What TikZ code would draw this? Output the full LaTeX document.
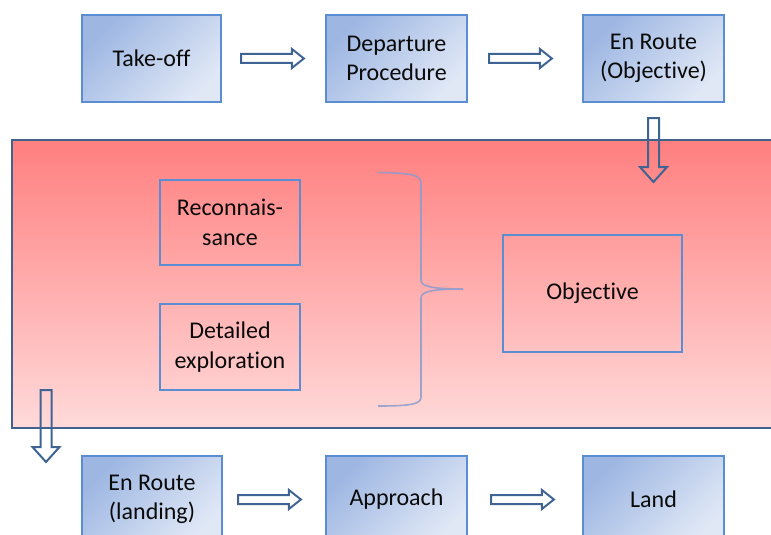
\documentclass[tikz,border=0pt]{standalone}
\usepackage{fontspec}
\setmainfont{Carlito}[Ligatures=CommonOff]
\usetikzlibrary{calc}

\definecolor{boxtop}{HTML}{9DB6E2}
\definecolor{boxbot}{HTML}{E0E8F6}
\definecolor{boxline}{HTML}{5B8DD3}
\definecolor{arrowline}{HTML}{3F6494}
\definecolor{panelline}{HTML}{41628F}
\definecolor{paneltop}{HTML}{FF7F7F}
\definecolor{panelbot}{HTML}{FFDADA}
\definecolor{bracecol}{HTML}{8A9CCF}
\definecolor{inktext}{HTML}{0A0A0A}

\tikzset{
  stage/.style={draw=boxline, line width=2.2pt, top color=boxtop, bottom color=boxbot,
    shading angle=45, align=center, text=inktext, inner sep=0pt,
    font=\fontsize{24}{29.5}\selectfont},
  subbox/.style={draw=boxline, line width=2.4pt, align=center, text=inktext, inner sep=0pt,
    font=\fontsize{24}{29.5}\selectfont},
  blockarrow/.style={draw=arrowline, line width=2pt, line join=miter},
  panel/.style={draw=panelline, line width=2.2pt, top color=paneltop, bottom color=panelbot},
  bracket/.style={draw=bracecol, line width=1.6pt, opacity=0.85},
}

% hollow block arrow pointing right, from #1 to #2 (same height)
\newcommand\rightblock[2]{%
  \draw[blockarrow] let \p1=(#1), \p2=(#2) in
    (\x1,\y1+4.5pt) -- (\x2-12pt,\y1+4.5pt) -- (\x2-12pt,\y1+9.5pt) -- (\x2,\y1)
    -- (\x2-12pt,\y1-9.5pt) -- (\x2-12pt,\y1-4.5pt) -- (\x1,\y1-4.5pt) -- cycle;}
% hollow block arrow pointing down, from #1 to #2 (same column)
\newcommand\downblock[2]{%
  \draw[blockarrow] let \p1=(#1), \p2=(#2) in
    (\x1-5.5pt,\y1) -- (\x1-5.5pt,\y2+15pt) -- (\x1-13.5pt,\y2+15pt) -- (\x1,\y2)
    -- (\x1+13.5pt,\y2+15pt) -- (\x1+5.5pt,\y2+15pt) -- (\x1+5.5pt,\y1) -- cycle;}

\begin{document}
\begin{tikzpicture}[x=1pt, y=-1pt]
  \useasboundingbox (0,0) rectangle (771,535);
  \clip (0,0) rectangle (771,535);

  % objective phase panel
  \path[panel] (12,140) rectangle (800,428);

  % top row
  \node[stage, minimum width=139pt, minimum height=87pt] (takeoff) at (151.5,58.5) {Take-off};
  \node[stage, minimum width=141pt, minimum height=87pt] (departure) at (396.5,58.5) {Departure\\Procedure};
  \node[stage, minimum width=141pt, minimum height=87pt] (enobj) at (653.5,58.5) {En Route\\(Objective)};

  % bottom row
  \node[stage, minimum width=140pt, minimum height=87pt] (enland) at (152,499.5) {En Route\\(landing)};
  \node[stage, minimum width=141pt, minimum height=87pt] (approach) at (396.5,499.5) {Approach};
  \node[stage, minimum width=141pt, minimum height=87pt] (land) at (653.5,499.5) {Land};

  % boxes inside the panel
  \node[subbox, minimum width=140pt, minimum height=85pt] (recon) at (230,222.5) {Reconnais-\\sance};
  \node[subbox, minimum width=140pt, minimum height=86pt] (explore) at (230,347) {Detailed\\exploration};
  \node[subbox, minimum width=179pt, minimum height=117pt] (objective) at (592.5,293.5) {Objective};

  % curly brace grouping the two activities
  \coordinate (bracetip) at (463,289);
  \draw[bracket] (378,172.5) .. controls (412,173) and (421,175) .. (421,183)
    -- (421,280) .. controls (421,286) and (430,289) .. (bracetip)
    .. controls (430,289) and (421,292) .. (421,298)
    -- (421,397) .. controls (421,404) and (412,406) .. (378,406);

  % flow arrows
  \rightblock{$(takeoff.east)+(19,0)$}{$(departure.west)+(-21,0)$}
  \rightblock{$(departure.east)+(21,0)$}{$(enobj.west)+(-30,0)$}
  \coordinate (panelin) at (653.5,182);
  \downblock{$(enobj.south)+(0,15)$}{panelin}
  \coordinate (panelouttop) at (46,390);
  \coordinate (paneloutend) at (46,462);
  \downblock{panelouttop}{paneloutend}
  \rightblock{$(enland.east)+(15,0)$}{$(approach.west)+(-24,0)$}
  \rightblock{$(approach.east)+(23,0)$}{$(land.west)+(-28,0)$}
\end{tikzpicture}
\end{document}
